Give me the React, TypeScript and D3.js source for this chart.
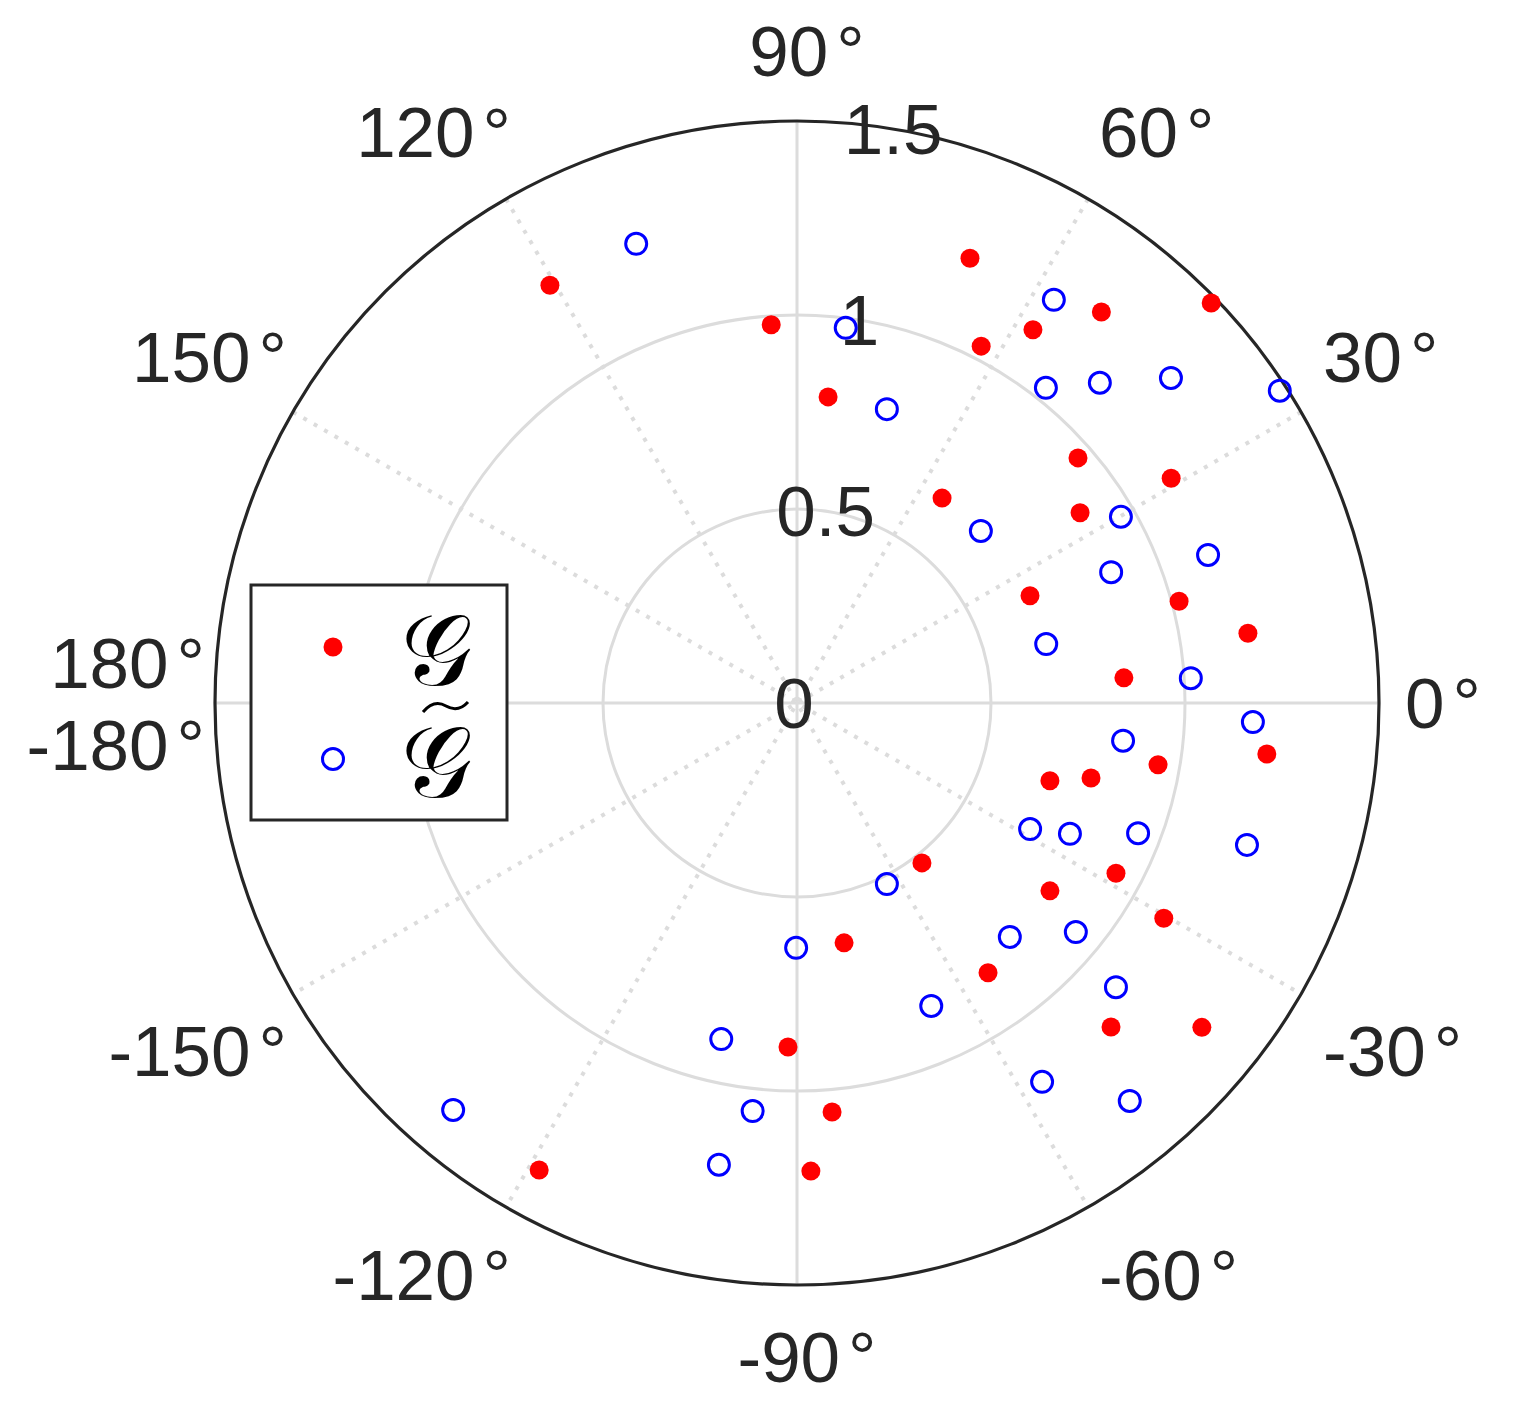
import * as d3 from "d3";

// polar data, theta in degrees, r in data units
const gTheta = [68.75, 120.6, 44.0, 52.1, 93.9, 57.7, 62.7, 84.2, 41.1, 31.0, 54.7, 33.9, 24.7, 14.9, 8.8, 4.4, -6.2, -9.7, -17.1, -14.3, -52.0, -28.1, -36.6, -30.4, -78.9, -54.7, -45.9, -38.7, -91.5, -85.1, -118.9, -88.3];
const gR = [1.23, 1.251, 1.484, 1.277, 0.977, 1.138, 1.035, 0.793, 0.961, 1.125, 0.647, 0.879, 0.661, 1.019, 1.176, 0.845, 1.218, 0.944, 0.682, 0.782, 0.523, 0.932, 0.812, 1.096, 0.63, 0.852, 1.163, 1.337, 0.887, 1.058, 1.375, 1.207];

const gtTheta = [109.3, 57.5, 82.6, 51.7, 46.6, 41.0, 32.9, 73.0, 43.1, 29.9, 19.8, 22.6, 13.3, 3.6, -2.4, -6.6, -28.4, -25.6, -20.9, -17.5, -63.6, -47.7, -39.4, -90.2, -66.1, -41.7, -102.7, -96.2, -57.1, -50.1, -130.2, -99.6];
const gtR = [1.254, 1.232, 0.975, 1.035, 1.136, 1.277, 1.482, 0.792, 0.649, 0.963, 1.126, 0.877, 0.66, 1.017, 1.176, 0.846, 0.683, 0.78, 0.941, 1.216, 0.521, 0.815, 0.93, 0.631, 0.854, 1.101, 0.888, 1.058, 1.163, 1.337, 1.373, 1.207];

const rTicks = [0, 0.5, 1, 1.5];
const thetaTicks = [0, 30, 60, 90, 120, 150, 180, -180, -150, -120, -90, -60, -30];

const width = 1513;
const height = 1413;
const cx = 797;
const cy = 703;
const outerR = 582;
const font = "'Liberation Sans', Arial, Helvetica, sans-serif";
const textColor = "#262626";
const gridColor = "#dcdcdc";

const rScale = d3.scaleLinear().domain([0, 1.5]).range([0, outerR]);
const toXY = (deg: number, r: number): [number, number] => {
  const a = (deg * Math.PI) / 180;
  return [cx + rScale(r) * Math.cos(a), cy - rScale(r) * Math.sin(a)];
};

const App = () => {
  const spokes = d3.range(0, 180, 30);

  // angle labels sit just outside the outer ring
  const labelR = 612;
  const thetaLabels = thetaTicks.map((t) => {
    const a = (t * Math.PI) / 180;
    const c = Math.cos(a);
    const s = Math.sin(a);
    let x = cx + labelR * c;
    let y = cy - labelR * s;
    let anchor = "middle";
    if (c > 0.1) {
      anchor = "start";
      x -= 4;
    } else if (c < -0.1) {
      anchor = "end";
      x += 20;
    } else x += 10;
    if (t === 180) y -= 40;
    else if (t === -180) y += 42;
    else if (s > 0.1) y -= 40;
    else if (s < -0.1) y += 42;
    return { t, x, y, anchor };
  });

  const marks = (theta: number[], r: number[]) => theta.map((t, i) => toXY(t, r[i]));

  return (
    <svg width={width} height={height} style={{ position: "absolute", left: 0, top: 0, background: "#fff" }}>
      <rect width={width} height={height} fill="#fff" />
      {/* grid rings */}
      {rTicks.filter((d) => d > 0 && d < 1.5).map((d) => (
        <circle key={d} cx={cx} cy={cy} r={rScale(d)} fill="none" stroke={gridColor} strokeWidth={3} />
      ))}
      {/* spokes */}
      {spokes.map((s) => {
        const [x1, y1] = toXY(s, 1.5);
        const [x2, y2] = toXY(s + 180, 1.5);
        const solid = s % 90 === 0;
        return (
          <line key={s} x1={x1} y1={y1} x2={x2} y2={y2} stroke={gridColor} strokeWidth={solid ? 3 : 4}
            strokeDasharray={solid ? undefined : "4 8"} />
        );
      })}
      <circle cx={cx} cy={cy} r={outerR} fill="none" stroke={textColor} strokeWidth={3.2} />

      {/* r tick labels along 80 degrees */}
      {rTicks.map((d) => {
        const [x, y] = toXY(80, d);
        return (
          <text key={d} x={d === 0 ? cx - 3 : x - 5} y={y} textAnchor="middle" dominantBaseline="central"
            fontFamily={font} fontSize={71} fill={textColor}>
            {d}
          </text>
        );
      })}

      {/* data */}
      {marks(gTheta, gR).map(([x, y], i) => (
        <circle key={"g" + i} cx={x} cy={y} r={9.5} fill="#ff0000" />
      ))}
      {marks(gtTheta, gtR).map(([x, y], i) => (
        <circle key={"gt" + i} cx={x} cy={y} r={10.5} fill="none" stroke="#0000ff" strokeWidth={3} />
      ))}

      {/* theta labels */}
      {thetaLabels.map((l) => (
        <text key={l.t} x={l.x} y={l.y} textAnchor={l.anchor} dominantBaseline="central"
          fontFamily={font} fontSize={71} fill={textColor}>
          {l.t}
          <tspan dx={8}>°</tspan>
        </text>
      ))}

      {/* legend */}
      <g>
        <rect x={251} y={585} width={256} height={235} fill="#fff" stroke={textColor} strokeWidth={3} />
        <circle cx={333} cy={647} r={9.5} fill="#ff0000" />
        <circle cx={333} cy={759} r={10.5} fill="none" stroke="#0000ff" strokeWidth={3} />
        <text x={436} y={650} textAnchor="middle" dominantBaseline="central" fontFamily="'DejaVu Serif', serif"
          fontSize={100} fill="#000">
          𝒢
        </text>
        <text x={436} y={762} textAnchor="middle" dominantBaseline="central" fontFamily="'DejaVu Serif', serif"
          fontSize={100} fill="#000">
          𝒢
        </text>
        <path d="M 423 712 Q 434 699 446 706 T 468 702" fill="none" stroke="#000" strokeWidth={3} />
      </g>
    </svg>
  );
};

export default App;
